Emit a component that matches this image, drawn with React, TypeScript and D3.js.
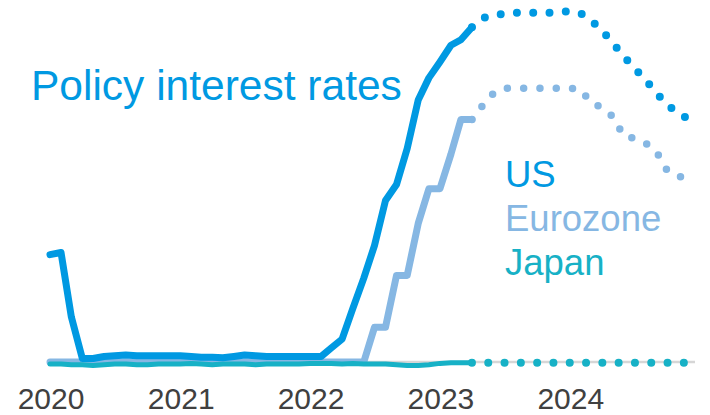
import React, { useEffect, useRef } from 'react';
import * as d3 from 'd3';

// Monthly policy rates, Jan 2020 – Apr 2023 (%)
const usHistory = [
  1.55, 1.58, 0.65, 0.05, 0.05, 0.08, 0.09, 0.10, 0.09, 0.09, 0.09, 0.09,
  0.09, 0.08, 0.07, 0.07, 0.06, 0.08, 0.10, 0.09, 0.08, 0.08, 0.08, 0.08,
  0.08, 0.08, 0.20, 0.33, 0.77, 1.21, 1.68, 2.33, 2.56, 3.08, 3.78, 4.10,
  4.33, 4.57, 4.65, 4.83,
];
const euroHistory = [
  0, 0, 0, 0, 0, 0, 0, 0, 0, 0, 0, 0,
  0, 0, 0, 0, 0, 0, 0, 0, 0, 0, 0, 0,
  0, 0, 0, 0, 0, 0, 0.5, 0.5, 1.25, 1.25, 2.0, 2.5,
  2.5, 3.0, 3.5, 3.5,
];
const japanHistory = [
  -0.03, -0.03, -0.04, -0.04, -0.05, -0.04, -0.03, -0.03, -0.04, -0.04, -0.03, -0.03,
  -0.03, -0.02, -0.03, -0.04, -0.03, -0.03, -0.03, -0.04, -0.03, -0.03, -0.03, -0.03,
  -0.02, -0.02, -0.02, -0.03, -0.02, -0.03, -0.03, -0.03, -0.04, -0.05, -0.05, -0.04,
  -0.02, -0.01, -0.01, -0.01,
];

// Market-implied path, Apr 2023 – Dec 2024 (%)
const usForecast = [
  4.83, 4.96, 5.01, 5.02, 5.04, 5.04, 5.04, 5.04, 5.05, 5.06, 5.03,
  4.93, 4.78, 4.60, 4.41, 4.24, 4.07, 3.88, 3.71, 3.59, 3.50,
];
const euroForecast = [
  3.5, 3.70, 3.88, 3.95, 3.95, 3.95, 3.95, 3.95, 3.95, 3.95, 3.93,
  3.74, 3.67, 3.54, 3.26, 3.23, 3.16, 3.03, 2.76, 2.68, 2.65,
];
const japanForecast = [
  -0.01, -0.01, -0.01, -0.01, -0.01, -0.01, -0.01, -0.01, -0.01, -0.01, -0.01,
  -0.01, -0.01, -0.01, -0.01, -0.01, -0.01, -0.01, -0.01, -0.01, -0.01,
];

const years = [2020, 2021, 2022, 2023, 2024];
const legendLabels = ['US', 'Eurozone', 'Japan'];
const colors = ['#0099e2', '#86b7e3', '#17b1c6'];

const App: React.FC = () => {
  const svgRef = useRef<SVGSVGElement>(null);

  useEffect(() => {
    if (!svgRef.current) return;
    const svg = d3.select(svgRef.current);
    svg.selectAll('*').remove();

    const x = d3.scaleTime()
      .domain([new Date(2020, 0, 1), new Date(2025, 0, 1)])
      .range([50, 700]);
    const y = d3.scaleLinear().domain([0, 5]).range([362, 15.5]);

    const month = (i: number) => new Date(2020, i, 1);
    const toPts = (vals: number[], offset: number) =>
      vals.map((v, i) => ({ date: month(offset + i), v }));

    const line = d3.line<{ date: Date; v: number }>()
      .x(d => x(d.date))
      .y(d => y(d.v));

    // zero line
    svg.append('line')
      .attr('x1', 48).attr('x2', 695)
      .attr('y1', y(0)).attr('y2', y(0))
      .attr('stroke', '#d6d6d6')
      .attr('stroke-width', 2.5);

    const series = [
      { hist: euroHistory, fc: euroForecast, color: colors[1], w: 7, dot: 7.5 },
      { hist: japanHistory, fc: japanForecast, color: colors[2], w: 5, dot: 8 },
      { hist: usHistory, fc: usForecast, color: colors[0], w: 7, dot: 8 },
    ];

    series.forEach(s => {
      svg.append('path')
        .datum(toPts(s.fc, s.hist.length - 1))
        .attr('fill', 'none')
        .attr('stroke', s.color)
        .attr('stroke-width', s.dot)
        .attr('stroke-linecap', 'round')
        .attr('stroke-dasharray', '0 16.3')
        .attr('d', line);
      svg.append('path')
        .datum(toPts(s.hist, 0))
        .attr('fill', 'none')
        .attr('stroke', s.color)
        .attr('stroke-width', s.w)
        .attr('stroke-linejoin', 'round')
        .attr('stroke-linecap', 'round')
        .attr('d', line);
    });

    // year labels
    svg.append('g')
      .selectAll('text')
      .data(years)
      .join('text')
      .attr('x', d => x(new Date(d, 0, 1)) + 1)
      .attr('y', 409)
      .attr('text-anchor', 'middle')
      .attr('font-size', 30)
      .attr('fill', '#404040')
      .text(d => d);

    svg.append('text')
      .attr('x', 31)
      .attr('y', 100)
      .attr('font-size', 42.5)
      .attr('fill', colors[0])
      .text('Policy interest rates');

    svg.append('g')
      .selectAll('text')
      .data(legendLabels)
      .join('text')
      .attr('x', 505)
      .attr('y', (_, i) => 187 + i * 44)
      .attr('font-size', 36.5)
      .attr('fill', (_, i) => colors[i])
      .text(d => d);
  }, []);

  return (
    <svg
      ref={svgRef}
      width={710}
      height={415}
      style={{ position: 'absolute', left: 0, top: 0, background: '#fff', fontFamily: '"Liberation Sans", Arial, sans-serif' }}
    />
  );
};

export default App;
